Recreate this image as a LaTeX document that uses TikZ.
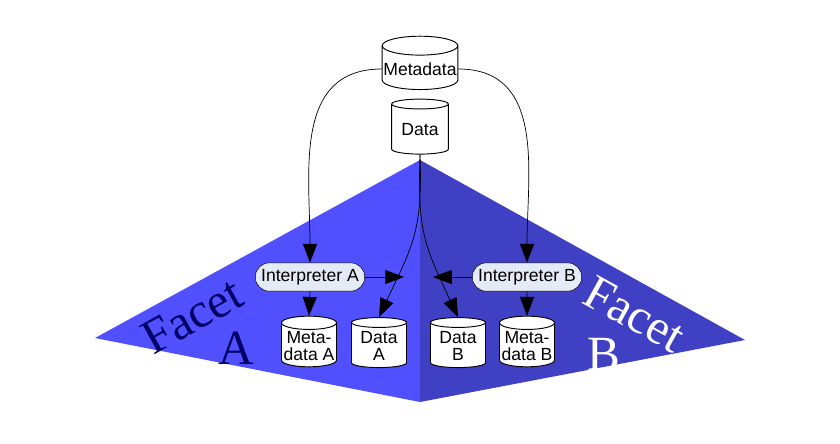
\documentclass[tikz,border=0pt]{standalone}
\usepackage{fontspec}
\setmainfont{Liberation Sans}
\newfontfamily\facetfont{Liberation Serif}
\usetikzlibrary{positioning, shapes.geometric, arrows.meta}
\definecolor{facetleft}{HTML}{5050FF}
\definecolor{facetright}{HTML}{4040C4}
\definecolor{interpfill}{HTML}{E4EAF6}
\definecolor{facetink}{HTML}{000066}

\begin{document}
\begin{tikzpicture}[
        x=0.03cm, y=-0.03cm,
        every node/.style={align=center, font=\fontsize{15}{15}\selectfont},
        store/.style={cylinder, shape border rotate=90, draw, thick, fill=white, aspect=0.25, minimum width=1.65cm, minimum height=1.5cm, inner sep=1pt},
        interp/.style={rectangle, rounded corners=0.42cm, draw, fill=interpfill, minimum height=0.85cm, inner xsep=5pt},
        facet/.style={font=\facetfont\fontsize{42}{42}\selectfont},
        arrow/.style={-{Triangle[length=16pt, width=12pt]}, semithick}
    ]
    \useasboundingbox (0,0) rectangle (840,443);

    % Facets
    \fill[facetleft] (420,160) -- (95,338) -- (420,402) -- cycle;
    \fill[facetright] (420,160) -- (745,340) -- (420,402) -- cycle;
    \node[facet, text=facetink, rotate=29] (facetA) at (192,316) {Facet};
    \node[facet, text=facetink] (facetAl) at (236,348) {A};
    \node[facet, text=white, rotate=-29] (facetB) at (635,314) {Facet};
    \node[facet, text=white] (facetBl) at (604,354) {B};

    % Stores
    \node[store, minimum width=2.25cm, minimum height=1.6cm] (meta) at (420,69) {Metadata};
    \node[store, minimum width=1.7cm, minimum height=1.65cm] (data) at (420,130) {Data};
    \node[store] (metaA) at (309,346) {Meta-\\data A};
    \node[store] (dataA) at (379,346) {Data\\A};
    \node[store] (dataB) at (458,346) {Data\\B};
    \node[store] (metaB) at (527,346) {Meta-\\data B};

    % Interpreters
    \node[interp] (interpA) at (310,277) {Interpreter A};
    \node[interp] (interpB) at (527,277) {Interpreter B};
    \coordinate (hitA) at (404,277);
    \coordinate (hitB) at (433,277);

    % Arrows
    \draw[arrow] (meta.west) to[out=180, in=90, looseness=1.1] (interpA.north);
    \draw[arrow] (meta.east) to[out=0, in=90, looseness=1.1] (interpB.north);
    \draw[arrow] (data.south) to[out=-88, in=65, looseness=1.2] (dataA.north);
    \draw[arrow] (data.south) to[out=-92, in=115, looseness=1.2] (dataB.north);
    \draw[arrow] (interpA.east) -- (hitA);
    \draw[arrow] (interpB.west) -- (hitB);
    \draw[arrow] (interpA.south) -- (metaA.north);
    \draw[arrow] (interpB.south) -- (metaB.north);
\end{tikzpicture}
\end{document}
